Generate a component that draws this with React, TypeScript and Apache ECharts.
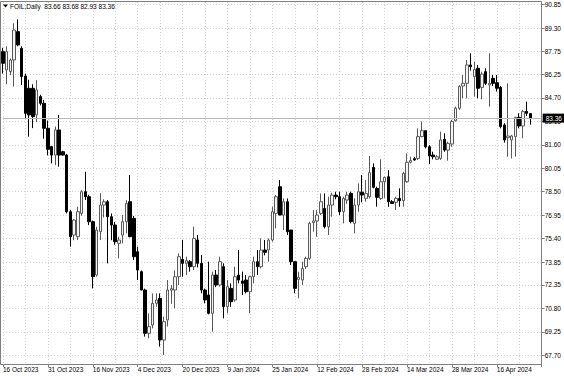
import { useEffect, useRef } from 'react';
import * as echarts from 'echarts';

const dates = [
  '16 Oct 2023','17 Oct 2023','18 Oct 2023','19 Oct 2023','20 Oct 2023','22 Oct 2023','23 Oct 2023','24 Oct 2023','25 Oct 2023','26 Oct 2023','27 Oct 2023','30 Oct 2023',
  '31 Oct 2023','1 Nov 2023','2 Nov 2023','3 Nov 2023','6 Nov 2023','7 Nov 2023','8 Nov 2023','9 Nov 2023','10 Nov 2023','13 Nov 2023','14 Nov 2023','15 Nov 2023',
  '16 Nov 2023','17 Nov 2023','20 Nov 2023','21 Nov 2023','22 Nov 2023','23 Nov 2023','24 Nov 2023','27 Nov 2023','28 Nov 2023','29 Nov 2023','30 Nov 2023','1 Dec 2023',
  '4 Dec 2023','5 Dec 2023','6 Dec 2023','7 Dec 2023','8 Dec 2023','11 Dec 2023','12 Dec 2023','13 Dec 2023','14 Dec 2023','15 Dec 2023','18 Dec 2023','19 Dec 2023',
  '20 Dec 2023','21 Dec 2023','22 Dec 2023','26 Dec 2023','27 Dec 2023','28 Dec 2023','29 Dec 2023','2 Jan 2024','3 Jan 2024','4 Jan 2024','5 Jan 2024','8 Jan 2024',
  '9 Jan 2024','10 Jan 2024','11 Jan 2024','12 Jan 2024','15 Jan 2024','16 Jan 2024','17 Jan 2024','18 Jan 2024','19 Jan 2024','22 Jan 2024','23 Jan 2024','24 Jan 2024',
  '25 Jan 2024','26 Jan 2024','29 Jan 2024','30 Jan 2024','31 Jan 2024','1 Feb 2024','2 Feb 2024','5 Feb 2024','6 Feb 2024','7 Feb 2024','8 Feb 2024','9 Feb 2024',
  '12 Feb 2024','13 Feb 2024','14 Feb 2024','15 Feb 2024','16 Feb 2024','19 Feb 2024','20 Feb 2024','21 Feb 2024','22 Feb 2024','23 Feb 2024','26 Feb 2024','27 Feb 2024',
  '28 Feb 2024','29 Feb 2024','1 Mar 2024','4 Mar 2024','5 Mar 2024','6 Mar 2024','7 Mar 2024','8 Mar 2024','10 Mar 2024','11 Mar 2024','12 Mar 2024','13 Mar 2024',
  '14 Mar 2024','15 Mar 2024','17 Mar 2024','18 Mar 2024','19 Mar 2024','20 Mar 2024','21 Mar 2024','22 Mar 2024','24 Mar 2024','25 Mar 2024','26 Mar 2024','27 Mar 2024',
  '28 Mar 2024','1 Apr 2024','2 Apr 2024','3 Apr 2024','4 Apr 2024','5 Apr 2024','8 Apr 2024','9 Apr 2024','10 Apr 2024','11 Apr 2024','12 Apr 2024','15 Apr 2024',
  '16 Apr 2024','17 Apr 2024','18 Apr 2024','19 Apr 2024','22 Apr 2024','23 Apr 2024','24 Apr 2024','25 Apr 2024','26 Apr 2024','29 Apr 2024',
];

const opens = [
  87.75,86.54,86.43,87.20,89.07,87.97,86.14,85.33,85.33,83.57,84.78,84.34,
  82.69,81.48,80.92,82.58,81.14,80.92,77.18,75.64,75.53,77.07,78.50,78.17,
  76.52,73.00,75.86,77.62,77.84,76.85,76.30,75.09,75.64,76.52,77.84,76.74,
  74.54,73.22,72.01,69.15,69.70,71.13,71.46,68.71,70.03,72.00,72.01,72.89,
  74.03,73.77,73.88,73.55,75.31,73.77,72.01,71.68,70.47,73.00,72.34,73.55,
  70.91,72.12,71.35,73.00,72.60,72.67,71.90,72.89,73.88,73.55,74.65,74.65,
  75.31,77.07,78.83,76.96,77.84,75.97,73.88,72.71,72.67,73.55,74.10,76.46,
  76.57,77.07,77.40,76.19,77.62,78.28,78.17,77.18,77.95,78.39,76.41,77.62,
  78.46,78.06,78.17,80.11,78.72,78.06,79.16,79.49,77.84,77.80,78.06,77.91,
  79.16,80.44,80.68,80.70,82.14,82.53,81.47,80.92,80.64,80.70,81.96,81.25,
  81.65,83.19,84.01,85.48,85.66,86.87,86.10,86.65,85.39,86.43,85.55,85.99,
  85.70,85.39,82.91,82.07,81.92,82.14,83.41,82.84,83.81,83.66,
];
const highs = [
  88.00,88.10,87.30,89.62,89.88,88.10,86.30,85.90,85.60,85.88,84.90,84.56,
  83.20,81.50,82.80,83.57,81.20,81.00,77.30,76.70,77.51,78.60,79.82,78.30,
  76.60,76.19,78.40,78.00,77.95,77.07,76.50,75.50,76.96,77.95,79.60,76.90,
  74.87,73.30,72.10,70.47,71.79,71.79,71.79,70.25,72.67,72.34,73.30,74.43,
  75.31,74.21,73.99,76.19,75.64,74.32,72.10,73.88,73.22,73.33,74.21,73.77,
  72.67,72.45,73.55,74.65,73.22,73.00,72.95,74.21,74.65,75.42,75.31,75.42,
  77.51,78.28,79.27,78.06,78.06,75.97,73.88,73.22,73.88,74.21,76.52,77.29,
  77.29,78.39,78.39,78.17,78.44,78.50,78.50,78.17,78.50,78.50,78.06,79.05,
  79.60,79.27,80.86,80.37,78.83,80.64,79.49,79.93,77.95,78.17,78.72,79.82,
  81.03,80.81,80.81,82.69,83.13,82.53,81.58,81.14,80.92,82.47,82.36,81.81,
  83.24,84.12,85.55,86.21,87.20,87.64,87.09,86.87,86.43,86.65,87.64,86.21,
  86.21,85.48,83.02,85.66,82.25,83.46,83.68,83.90,84.45,83.68,
];
const lows = [
  86.30,85.60,86.20,85.44,88.10,85.55,83.30,82.14,82.70,83.10,84.20,82.00,
  80.90,80.37,80.26,80.15,80.90,77.07,74.87,75.30,75.31,76.90,77.95,76.30,
  72.12,72.89,75.31,76.80,73.77,75.30,75.00,74.10,75.09,75.75,75.50,73.99,
  72.67,72.00,68.93,68.82,69.48,70.90,68.27,67.72,69.60,71.10,70.80,72.34,
  72.89,73.00,73.22,73.33,73.50,71.79,71.13,70.40,69.26,72.20,72.23,70.14,
  70.47,70.90,71.24,72.45,71.68,71.79,70.47,72.45,73.00,73.44,74.30,73.88,
  75.20,76.08,76.96,75.97,75.64,73.66,71.79,71.46,72.34,73.40,74.00,75.86,
  75.53,76.96,76.08,75.64,76.85,78.00,76.96,76.41,77.70,76.41,75.75,77.18,
  77.80,77.84,78.06,78.72,77.51,77.95,78.06,77.51,77.69,77.29,77.51,77.51,
  79.10,80.37,80.55,80.60,82.09,81.36,80.33,80.64,80.60,80.60,81.14,80.55,
  81.47,83.13,83.90,84.67,84.67,86.50,84.78,84.67,84.60,85.55,84.12,85.48,
  85.11,82.69,81.74,80.81,80.70,80.81,82.69,82.03,83.50,82.93,
];
const closes = [
  86.98,87.75,87.20,89.18,88.19,86.10,83.68,83.57,83.46,85.22,84.34,82.69,
  81.30,80.92,82.58,80.92,80.92,77.18,75.53,76.63,77.18,78.50,78.17,76.52,
  72.89,75.97,77.62,77.84,76.85,76.30,75.20,75.31,76.52,77.73,75.53,74.21,
  73.33,72.01,69.15,69.59,71.13,71.35,68.71,69.92,72.01,72.10,72.89,74.21,
  73.77,73.95,73.55,75.42,73.77,72.01,71.35,70.47,73.00,72.34,73.88,70.91,
  72.23,71.24,72.89,72.67,72.45,71.90,72.89,73.88,73.55,74.65,74.50,75.31,
  77.18,78.17,76.96,77.84,75.86,73.88,72.12,72.85,73.44,74.10,76.41,76.57,
  76.96,77.84,76.19,77.62,78.28,78.17,77.18,78.06,78.28,76.52,77.62,78.50,
  78.28,78.39,79.76,78.79,78.13,79.16,79.45,77.84,77.73,78.06,77.91,79.71,
  80.44,80.57,80.60,82.14,82.53,81.47,80.86,80.81,80.81,81.92,81.25,81.69,
  83.13,84.01,85.44,85.66,86.87,86.76,86.58,85.33,86.27,85.66,85.66,85.66,
  85.33,82.80,81.92,82.18,82.18,83.41,82.84,83.79,83.68,83.36,
];

const yTickValues = [67.70, 69.25, 70.80, 72.35, 73.85, 75.40, 76.95, 78.50, 80.05, 81.60, 83.15, 84.70, 86.25, 87.75, 89.30, 90.85];
const lastPrice = 83.36;
const headerSymbol = 'FOIL,Daily';
const headerOHLC = '83.66 83.68 82.93 83.36';
const emptySlots = ['', '', ''];

export default function App() {
  const ref = useRef<HTMLDivElement>(null);
  useEffect(() => {
    document.body.style.margin = '0';
    if (!ref.current) return;
    const chart = echarts.init(ref.current, null, { renderer: 'svg' });
    const cats = dates.concat(emptySlots);
    const data = opens.map((o, i) => [o, closes[i], lows[i], highs[i]]);
    const font = '"Liberation Sans", Arial, sans-serif';
    chart.setOption({
      animation: false,
      backgroundColor: '#ffffff',
      grid: { left: 1.67, right: 22.33, top: 2, bottom: 12 },
      xAxis: {
        type: 'category',
        data: cats,
        boundaryGap: false,
        axisLine: { show: false },
        axisTick: { show: true, interval: 11, length: 3, lineStyle: { color: '#808080' } },
        axisLabel: { interval: 11, align: 'left', fontSize: 6.5, color: '#000', margin: 2, fontFamily: font },
        splitLine: { show: true, interval: 5, lineStyle: { color: '#d2d2d2', type: [1, 2], width: 1 } },
      },
      yAxis: {
        type: 'value',
        position: 'right',
        min: 67.125,
        max: 91.028,
        axisLine: { show: false },
        axisTick: { show: true, length: 3, customValues: yTickValues, lineStyle: { color: '#808080' } },
        axisLabel: {
          customValues: yTickValues,
          formatter: (v: number) => v.toFixed(2),
          fontSize: 6.5,
          color: '#000',
          margin: 3,
          fontFamily: font,
        },
        splitLine: { show: true, lineStyle: { color: '#d2d2d2', type: [1, 2], width: 1 } },
      },
      series: [
        {
          type: 'candlestick',
          data,
          barWidth: 3,
          clip: false,
          itemStyle: { color: '#f4f4f4', color0: '#000000', borderColor: '#5a5a5a', borderColor0: '#000000', borderWidth: 1 },
          markLine: {
            symbol: 'none',
            silent: true,
            z: 10,
            lineStyle: { color: '#b8b8b8', type: 'solid', width: 1 },
            label: {
              position: 'end',
              formatter: lastPrice.toFixed(2),
              backgroundColor: '#000',
              color: '#fff',
              fontSize: 6.5,
              fontFamily: font,
              padding: [1, 3, 1, 3],
              distance: 1,
            },
            data: [{ yAxis: lastPrice }],
          },
        },
      ],
      graphic: [
        {
          type: 'rect',
          silent: true,
          z: 5,
          shape: { x: 0.5, y: 1.5, width: 541, height: 363 },
          style: { fill: 'none', stroke: '#808080', lineWidth: 1 },
        },
        {
          type: 'polygon',
          silent: true,
          z: 6,
          shape: { points: [[3, 4.5], [8, 4.5], [5.5, 7.5]] },
          style: { fill: '#000' },
        },
        {
          type: 'text',
          silent: true,
          z: 6,
          x: 10,
          y: 6,
          style: { text: headerSymbol + '  ' + headerOHLC, fontSize: 6.5, fill: '#000', fontFamily: font, verticalAlign: 'middle' },
        },
      ],
    });
    return () => chart.dispose();
  }, []);
  return <div ref={ref} style={{ width: 564, height: 376 }} />;
}
